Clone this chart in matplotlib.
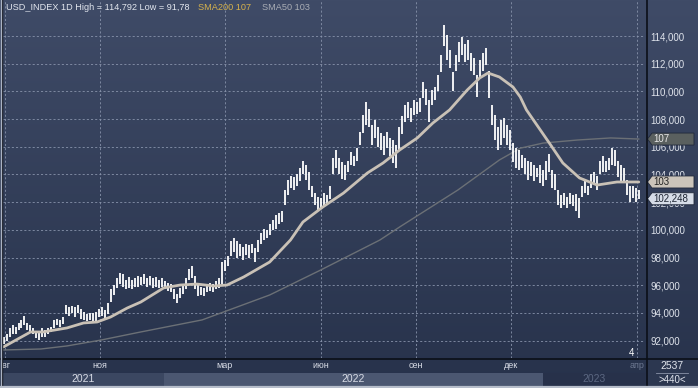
import matplotlib
matplotlib.use("Agg")
import matplotlib.pyplot as plt
import numpy as np
import pandas as pd
from matplotlib.colors import LinearSegmentedColormap
from matplotlib.patches import Polygon
from matplotlib.lines import Line2D
from matplotlib.transforms import blended_transform_factory

plt.rcParams['font.family'] = ['Liberation Sans', 'DejaVu Sans']

# bar highs / lows (one bar every ~2 trading days)
highs = [92.3, 92.5, 92.9, 93.1, 93.0, 93.3, 93.5, 93.8,
         93.3, 93.1, 92.9, 92.7, 92.6, 92.9, 92.8, 92.9, 93.0,
         93.5, 93.6, 93.5, 93.7,
         94.6, 94.4, 94.5, 94.4, 94.6, 94.3,
         94.1, 93.9, 94.0, 94.0, 94.1,
         94.3, 94.4, 94.2, 94.7,
         95.7, 96.0, 96.5, 96.9, 96.8, 96.4,
         96.6, 96.4, 96.5, 96.7, 96.6, 96.8, 96.5, 96.7, 96.5, 96.6, 96.4, 96.5, 96.3, 96.2, 96.1,
         95.7, 95.4, 95.8, 96.1, 96.5, 97.2, 97.4, 96.7, 96.0, 95.9, 95.8, 96.1,
         96.2, 96.1, 96.3, 96.5,
         97.7, 97.8, 98.1, 99.2, 99.4, 99.2,
         99.0, 98.8, 99.0, 98.9, 99.0, 98.7, 99.3,
         99.8, 100.1, 100.0, 100.4, 100.7, 101.1, 101.2, 101.4,
         102.9, 103.6, 103.9, 103.8, 104.0, 104.5,
         105.0, 104.7, 104.2, 103.2, 102.7, 102.4, 102.3,
         102.7, 102.5, 103.2, 105.2, 105.8, 105.2,
         104.9, 104.7, 105.0, 105.6, 105.3, 105.9,
         107.1, 108.3, 109.2, 108.7, 107.6, 107.9, 107.4,
         107.0, 106.8, 107.1, 106.6, 106.5, 106.1,
         107.4, 108.2, 109.0, 109.2, 108.8, 109.4, 109.2, 109.5,
         110.7, 110.2, 109.4, 110.1, 110.3, 111.2, 112.6,
         114.792, 114.1, 113.0, 111.4, 112.6,
         113.6, 113.9, 113.4, 113.7, 112.8, 112.4, 111.2,
         112.3, 112.8, 113.1, 111.5,
         109.0, 108.3, 107.4, 107.9, 108.1, 107.6, 107.2,
         106.3, 105.9, 105.8, 105.4, 105.2, 105.0, 104.9, 104.7, 104.5, 104.7, 104.3, 105.0, 105.5, 104.3, 104.0,
         102.9, 102.5, 102.7, 102.4, 102.7, 102.5, 102.6, 102.3,
         103.2, 103.5, 103.2, 104.0, 104.2, 103.9, 105.0, 105.3, 105.0, 105.2, 105.9, 105.8,
         105.0, 104.7, 104.5, 103.6, 103.2, 103.2, 103.0, 102.9]

lows = [91.78, 92.0, 92.3, 92.5, 92.5, 92.8, 92.9, 93.1,
        92.8, 92.6, 92.5, 92.2, 92.05, 92.3, 92.3, 92.5, 92.6,
        92.9, 93.1, 93.0, 93.2,
        93.9, 93.8, 94.0, 93.7, 94.0, 93.6,
        93.5, 93.4, 93.5, 93.4, 93.4,
        93.7, 93.8, 93.6, 93.9,
        94.8, 95.3, 95.8, 96.1, 95.9, 95.7,
        95.8, 95.7, 95.9, 95.9, 96.0, 96.1, 95.9, 96.0, 95.8, 95.9, 95.8, 95.9, 95.7, 95.6, 95.5,
        95.0, 94.7, 95.1, 95.4, 95.7, 96.4, 96.5, 95.7, 95.2, 95.3, 95.2, 95.5,
        95.6, 95.5, 95.7, 95.8,
        96.1, 97.0, 97.4, 98.1, 98.4, 98.0,
        98.1, 97.8, 98.2, 98.0, 98.3, 97.7, 98.4,
        99.0, 99.3, 99.4, 99.6, 100.0, 100.1, 100.4, 100.6,
        101.8, 102.5, 103.0, 102.9, 103.2, 103.5,
        104.0, 103.6, 102.9, 102.4, 101.8, 101.4, 101.6,
        101.7, 101.8, 102.2, 104.0, 104.5, 104.0,
        103.7, 103.6, 104.2, 104.7, 104.6, 105.0,
        106.1, 107.0, 107.6, 107.4, 106.1, 106.6, 106.0,
        105.8, 105.4, 105.9, 105.3, 104.8, 104.5,
        105.8, 106.9, 107.8, 108.1, 107.8, 108.3, 108.4, 108.5,
        109.5, 109.0, 107.8, 109.0, 109.4, 110.0, 111.4,
        113.3, 112.3, 111.7, 110.0, 111.5,
        112.1, 112.6, 112.1, 112.3, 111.5, 111.2, 109.6,
        111.0, 111.5, 111.9, 109.5,
        107.6, 106.5, 105.8, 106.1, 106.6, 106.1, 105.8,
        104.9, 104.5, 104.3, 104.5, 104.0, 103.6, 103.9, 103.5, 103.8, 103.4, 103.2, 103.6, 104.2, 103.0, 102.9,
        101.8, 101.6, 101.8, 101.6, 101.9, 101.7, 101.4, 100.85,
        102.4, 102.7, 102.5, 103.0, 103.3, 102.9, 104.0, 104.2, 104.2, 104.3, 104.7, 104.6,
        103.8, 103.5, 103.5, 102.5, 102.0, 102.3, 102.0, 102.2]

first_bar = '2021-07-31'
last_bar = '2023-04-03'
last_close = 102.248

sma50_dates = ['2021-07-31', '2021-08-26', '2021-09-07', '2021-09-30', '2021-10-16', '2021-10-29',
               '2021-11-11', '2021-11-27', '2021-12-10', '2022-01-01', '2022-01-17', '2022-02-02',
               '2022-02-18', '2022-03-03', '2022-03-19', '2022-04-13', '2022-05-03', '2022-05-15',
               '2022-06-03', '2022-06-23', '2022-07-16', '2022-07-31', '2022-08-16', '2022-09-02',
               '2022-09-17', '2022-10-03', '2022-10-20', '2022-11-01', '2022-11-09', '2022-11-20',
               '2022-12-03', '2022-12-10', '2022-12-16', '2023-01-07', '2023-01-20', '2023-02-05',
               '2023-02-22', '2023-03-13', '2023-04-03']
sma50 = [91.55, 92.63, 92.63, 92.92, 93.28, 93.35,
         93.71, 94.36, 94.79, 95.81, 96.02, 96.09,
         95.95, 96.02, 96.6, 97.68, 99.27, 100.57,
         101.65, 102.66, 104.11, 104.83, 105.77, 106.64,
         107.72, 108.66, 110.1, 110.97, 111.33, 111.04,
         110.32, 109.6, 108.66, 106.27, 104.83, 103.75,
         103.24, 103.46, 103.46]

sma200_dates = ['2021-07-31', '2021-09-05', '2021-09-30', '2021-11-02', '2021-12-10', '2022-02-07',
                '2022-04-13', '2022-06-01', '2022-07-28', '2022-08-16', '2022-10-11', '2022-11-20',
                '2022-12-10', '2023-01-01', '2023-02-03', '2023-03-07', '2023-04-03']
sma200 = [91.33, 91.40, 91.62, 92.05, 92.63, 93.5,
          95.3, 97.1, 99.27, 100.21, 102.88, 105.05,
          105.9, 106.27, 106.49, 106.64, 106.56]

price_ticks = [92, 94, 96, 98, 100, 102, 104, 106, 108, 110, 112, 114]
month_dates = ['2021-08-01', '2021-11-01', '2022-03-01', '2022-06-01', '2022-09-01', '2022-12-01', '2023-04-01']
month_labels = ['авг', 'ноя', 'мар', 'июн', 'сен', 'дек', 'апр']
years = ['2021', '2022', '2023']
year_edges = ['2021-07-30', '2022-01-01', '2023-01-01', '2023-04-09']

W, H = 698, 388
fig = plt.figure(figsize=(W / 100, H / 100), dpi=100)

# background gradient for the whole picture
bg = fig.add_axes([0, 0, 1, 1], zorder=-5)
cmap = LinearSegmentedColormap.from_list('bg', ['#3f4b67', '#27324b'])
bg.imshow(np.linspace(0, 1, 256).reshape(-1, 1), aspect='auto', cmap=cmap, extent=[0, 1, 0, 1])
bg.set_xlim(0, 1)
bg.set_ylim(0, 1)
bg.axis('off')

ax = fig.add_axes([3 / W, 30 / H, 642 / W, 358 / H])
ax.set_facecolor('none')
for s in ax.spines.values():
    s.set_visible(False)

dates = pd.date_range(first_bar, last_bar, periods=len(highs))
ax.vlines(dates, lows, highs, color='white', lw=1.3, zorder=4)
ax.plot(pd.to_datetime(sma200_dates), sma200, color='#6b7076', lw=1.0, zorder=3)
ax.plot(pd.to_datetime(sma50_dates), sma50, color='#c9c1b6', lw=2.0, zorder=5,
        solid_capstyle='round')

x_left, x_right = pd.Timestamp('2021-07-30 12:00'), pd.Timestamp('2023-04-09')
ax.set_xlim(x_left, x_right)
ax.set_ylim(90.75, 116.6)

ax.set_yticks(price_ticks)
ax.set_yticklabels([f"{v:.3f}".replace('.', ',') for v in price_ticks])
ax.yaxis.tick_right()
ax.tick_params(axis='y', length=0, pad=4, labelsize=7, labelcolor='#dfe3eb')
ax.set_xticks(pd.to_datetime(month_dates))
ax.tick_params(axis='x', length=0, labelbottom=False)
ax.grid(True, color='#8893ab', lw=0.6, ls=(0, (2.5, 2.5)), zorder=1)

# title
ax.text(3 / 642, 1 - 8 / 358, 'USD_INDEX 1D High = 114,792 Low = 91,78', transform=ax.transAxes,
        color='#e2e6ee', fontsize=6.6, va='center', ha='left')
ax.text(195 / 642, 1 - 8 / 358, 'SMA200 107', transform=ax.transAxes,
        color='#d6b24c', fontsize=6.6, va='center', ha='left')
ax.text(259 / 642, 1 - 8 / 358, 'SMA50 103', transform=ax.transAxes,
        color='#a9adb5', fontsize=6.6, va='center', ha='left')
ax.text(626 / 642, 5 / 358, '4', transform=ax.transAxes, color='white', fontsize=7,
        va='center', ha='left')

# price tags on the right scale
tr = blended_transform_factory(ax.transAxes, ax.transData)
hh = 6.0 / 13.85


def tag(value, text, face, fg):
    x0, x1, x2 = 1 + 2.5 / 642, 1 + 7 / 642, 1 + 49 / 642
    pts = [(x0, value), (x1, value + hh), (x2, value + hh), (x2, value - hh), (x1, value - hh)]
    ax.add_patch(Polygon(pts, closed=True, transform=tr, facecolor=face, edgecolor='#20283a',
                         lw=0.6, clip_on=False, zorder=10))
    ax.text(1 + 8 / 642, value, text, transform=tr, color=fg, fontsize=7, va='center',
            ha='left', clip_on=False, zorder=11)


tag(sma200[-1], '107', '#5a605f', '#e8e8e8')
tag(sma50[-1], '103', '#cbc4ba', '#222222')
tag(last_close, '102,248', '#d6dce7', '#1e2533')

# bottom time scale
bx = fig.add_axes([3 / W, 0, 642 / W, 29 / H], sharex=ax)
bx.set_facecolor('#2c3750')
bx.set_ylim(0, 1)
bx.axis('off')
bx.patch.set_visible(True)
band_colors = ['#3b4761', '#4b5771', '#27314a']
year_colors = ['#d8dce6', '#d8dce6', '#5c6882']
ed = pd.to_datetime(year_edges)
for i, y in enumerate(years):
    bx.axvspan(ed[i], ed[i + 1], ymin=0.07, ymax=0.52, color=band_colors[i], lw=0)
    lo, hi = max(ed[i], x_left), min(ed[i + 1], x_right)
    bx.text(lo + (hi - lo) / 2, 0.3, y, color=year_colors[i], fontsize=7.5, ha='center', va='center')
for d, lab in zip(pd.to_datetime(month_dates), month_labels):
    col = '#d8dce6' if lab != 'апр' else '#6d7891'
    bx.text(d, 0.78, lab, color=col, fontsize=6.5, ha='center', va='center', clip_on=True)
bx.set_xlim(x_left, x_right)

# right-bottom corner cell
fig.patches.append(plt.Rectangle((646 / W, 0), 52 / W, 29 / H, transform=fig.transFigure,
                                 facecolor='#2c3750', edgecolor='none', zorder=-1))
fig.text(672 / W, 1 - 366 / H, '2537', color='#e0e4ec', fontsize=7.5, ha='center', va='center')
fig.text(672 / W, 1 - 380 / H, '>440<', color='#e0e4ec', fontsize=7, ha='center', va='center')
fig.add_artist(Line2D([656 / W, 688 / W], [1 - 373 / H] * 2, color='#8a93a8', lw=0.6))

# separators and frame
fig.add_artist(Line2D([646.5 / W] * 2, [0, 1], color='#0b0f18', lw=1.2))
fig.add_artist(Line2D([0, 1], [1 - 359 / H] * 2, color='#0b0f18', lw=1.2))
fig.add_artist(Line2D([2 / W] * 2, [0, 1], color='#0b0f18', lw=1.0))
fig.add_artist(Line2D([0.5 / W] * 2, [0, 1], color='#aab2c2', lw=1.0))
fig.add_artist(Line2D([0, 1], [1.2 / H] * 2, color='#b6bdca', lw=1.6))

fig.savefig('out.png', dpi=100)
